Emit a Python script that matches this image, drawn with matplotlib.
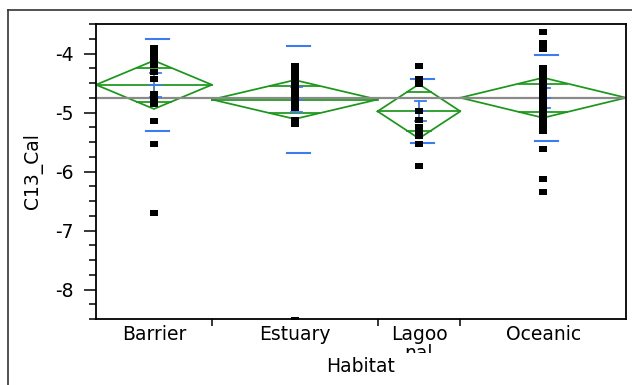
import numpy as np
import matplotlib.pyplot as plt
from matplotlib.ticker import MultipleLocator, FixedLocator
from matplotlib.lines import Line2D
from matplotlib.patches import Rectangle

plt.rcParams['font.family'] = ['DejaVu Sans']
plt.rcParams['axes.unicode_minus'] = False

habitats = ['Barrier', 'Estuary', 'Lagoo\nnal', 'Oceanic']

# C13_Cal values, one list per habitat
barrier = [-3.90, -3.98, -4.03, -4.10, -4.15, -4.20, -4.31, -4.44, -4.68,
           -4.78, -4.85, -5.14, -5.53, -6.70]
estuary = [-4.22, -4.27, -4.32, -4.38, -4.40, -4.44, -4.50, -4.56, -4.60,
           -4.62, -4.68, -4.70, -4.74, -4.80, -4.86, -4.90, -4.92, -5.12,
           -5.20, -8.52]
lagoonal = [-4.21, -4.44, -4.51, -4.98, -5.13, -5.25, -5.33, -5.39, -5.53,
            -5.90]
oceanic = [-3.64, -3.83, -3.93, -4.25, -4.33, -4.41, -4.49, -4.57, -4.65,
           -4.73, -4.81, -4.89, -4.97, -5.05, -5.13, -5.22, -5.32, -5.62,
           -6.12, -6.34]

group_means = [-4.53, -4.78, -4.98, -4.75]
ci_half = [0.41, 0.33, 0.46, 0.34]
std_devs = [0.78, 0.91, 0.54, 0.73]
std_errs = [0.20, 0.21, 0.17, 0.17]
grand_mean = -4.76

groups = [barrier, estuary, lagoonal, oceanic]
counts = [len(g) for g in groups]
edges = np.concatenate([[0], np.cumsum(counts)])
centers = (edges[:-1] + edges[1:]) / 2

W, H = 632, 385
fig = plt.figure(figsize=(W / 100, H / 100), dpi=100)
ax = fig.add_axes([96 / W, 66 / H, 530 / W, 295 / H])
px = edges[-1] / 530.0  # data units per pixel along x

green = '#1a971a'
blue = '#3d7bf0'

for i, g in enumerate(groups):
    x0, x1, c = edges[i], edges[i + 1], centers[i]
    m, h = group_means[i], ci_half[i]
    # means diamond
    ax.plot([x0, c, x1, c, x0], [m, m + h, m, m - h, m], color=green, lw=1.25, zorder=2)
    ax.plot([x0, x1], [m, m], color=green, lw=1.25, zorder=2)
    # overlap marks
    o = h / np.sqrt(2)
    hw = (1 - 1 / np.sqrt(2)) * (x1 - x0) / 2
    for yy in (m + o, m - o):
        ax.plot([c - hw, c + hw], [yy, yy], color=green, lw=1.25, zorder=2)
    # std dev lines
    for yy in (m + std_devs[i], m - std_devs[i]):
        ax.plot([c - 8 * px, c + 15 * px], [yy, yy], color=blue, lw=1.5, zorder=3)
    # mean error bar
    se = std_errs[i]
    ax.plot([c + 0.5 * px, c + 0.5 * px], [m - se, m + se], color=blue, lw=1.3, zorder=3)
    for yy in (m - se, m, m + se):
        ax.plot([c - 3.5 * px, c + 7 * px], [yy, yy], color=blue, lw=1.3, zorder=3)
    # points
    ax.plot(np.full(len(g), c), g, linestyle='none',
            marker=[(-1.2, -1), (1.2, -1), (1.2, 1), (-1.2, 1)],
            markersize=5.8, color='black', markeredgewidth=0, zorder=4)

ax.axhline(grand_mean, color='#8a8a8a', lw=1.6, zorder=2.5)

ax.set_xlim(edges[0], edges[-1])
ax.set_ylim(-8.5, -3.5)

ax.yaxis.set_major_locator(MultipleLocator(1))
ax.yaxis.set_minor_locator(MultipleLocator(0.25))
ax.tick_params(axis='y', which='major', length=9, width=1.1, labelsize=13.5, pad=7)
ax.tick_params(axis='y', which='minor', length=4.8, width=1.1)

ax.xaxis.set_major_locator(FixedLocator(edges[1:-1]))
ax.xaxis.set_major_formatter(plt.NullFormatter())
ax.set_xticks(centers, minor=True)
ax.set_xticklabels(habitats, minor=True, fontsize=13.5)
ax.tick_params(axis='x', which='major', length=5, width=1.1)
ax.tick_params(axis='x', which='minor', length=0, pad=4)
for lab in ax.get_xticklabels(minor=True):
    lab.set_linespacing(1.05)

for s in ax.spines.values():
    s.set_linewidth(1.3)

ax.set_ylabel('C13_Cal', fontsize=13.5, labelpad=9)

# the wrapped "nal" is cut off under the axis title, as in the report
fig.add_artist(Rectangle((395 / W, 0), 55 / W, 32 / H, transform=fig.transFigure,
                         facecolor='white', edgecolor='none', zorder=5))
fig.text(361 / W, (H - 367) / H, 'Habitat', fontsize=13.5, ha='center', va='center', zorder=6)

# report frame
fig.add_artist(Line2D([7.5 / W, 7.5 / W], [0, (H - 9.5) / H], transform=fig.transFigure,
                      color='#333333', lw=1.2, zorder=7))
fig.add_artist(Line2D([7.5 / W, 1], [(H - 9.5) / H, (H - 9.5) / H], transform=fig.transFigure,
                      color='#333333', lw=1.2, zorder=7))

fig.savefig('out.png', dpi=100)
